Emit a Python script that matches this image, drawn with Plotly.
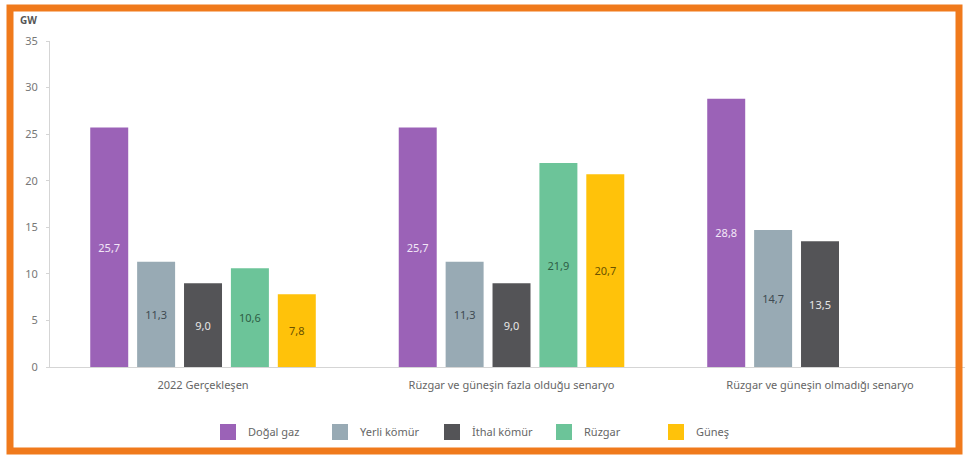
import plotly.graph_objects as go

# Installed capacity by source and scenario (GW)
categories = [
    "2022 Gerçekleşen",
    "Rüzgar ve güneşin fazla olduğu senaryo",
    "Rüzgar ve güneşin olmadığı senaryo",
]
series_names = ["Doğal gaz", "Yerli kömür", "İthal kömür", "Rüzgar", "Güneş"]
dogal_gaz = [25.7, 25.7, 28.8]
yerli_komur = [11.3, 11.3, 14.7]
ithal_komur = [9.0, 9.0, 13.5]
ruzgar = [10.6, 21.9, None]
gunes = [7.8, 20.7, None]
y_ticks = [0, 5, 10, 15, 20, 25, 30, 35]

series_values = [dogal_gaz, yerli_komur, ithal_komur, ruzgar, gunes]
colors = ["#9B62B7", "#98AAB4", "#545457", "#6CC499", "#FFC20A"]
text_colors = ["#F3E8F8", "#3F4A52", "#E6E6E6", "#2E5E45", "#6B5200"]

W, H = 965, 455
M_L, M_R, M_T, M_B = 50, 0, 41, 88
PW, PH = W - M_L - M_R, H - M_T - M_B

fig = go.Figure()
for name, vals, col, tcol in zip(series_names, series_values, colors, text_colors):
    fig.add_trace(go.Bar(
        name=name,
        x=categories,
        y=vals,
        marker=dict(color=col, line=dict(width=0)),
        texttemplate="%{y:.1f}",
        textposition="inside",
        insidetextanchor="middle",
        textangle=0,
        textfont=dict(color=tcol, size=11),
        cliponaxis=False,
        showlegend=False,
        legendgroup=name,
    ))

# Legend entries drawn as larger square swatches
for name, col in zip(series_names, colors):
    fig.add_trace(go.Scatter(
        name=name,
        x=[None], y=[None],
        mode="markers",
        marker=dict(symbol="square", size=16, color=col),
        legendgroup=name,
        showlegend=True,
    ))


def px_x(px):
    return (px - M_L) / PW


def px_y(py):
    return (H - M_B - py) / PH


# Orange frame around the whole figure
fig.add_shape(
    type="rect", xref="paper", yref="paper",
    x0=px_x(10), x1=px_x(959), y0=px_y(451), y1=px_y(8),
    line=dict(color="#F07A1C", width=7), fillcolor="rgba(0,0,0,0)",
    layer="above",
)

fig.add_annotation(
    text="<b>GW</b>", xref="paper", yref="paper",
    x=px_x(28), y=px_y(20), xanchor="center", yanchor="middle",
    showarrow=False, font=dict(size=10, color="#555555"),
)

fig.update_layout(
    width=W, height=H,
    margin=dict(l=M_L, r=M_R, t=M_T, b=M_B),
    paper_bgcolor="white", plot_bgcolor="white",
    separators=",.",
    font=dict(family="Noto Sans, Open Sans, sans-serif", size=11, color="#666666"),
    barmode="group",
    bargap=0.24,
    bargroupgap=0.19,
    showlegend=True,
    legend=dict(
        orientation="h", x=px_x(488), xanchor="center",
        y=px_y(432), yanchor="middle",
        font=dict(size=11, color="#666666"),
        entrywidth=67,
        itemsizing="trace",
    ),
    uniformtext=dict(minsize=10, mode="show"),
)

fig.update_xaxes(
    type="category",
    range=[-0.496, 2.47],
    showline=True, linecolor="#D5D5D5", linewidth=1,
    ticks="", showgrid=False,
    ticklabelstandoff=8,
    tickfont=dict(size=11, color="#666666"),
)
fig.update_yaxes(
    range=[0, 35], tickvals=y_ticks,
    showline=True, linecolor="#D5D5D5", linewidth=1,
    ticks="outside", ticklen=3, tickcolor="#D5D5D5",
    ticklabelstandoff=6,
    showgrid=False, zeroline=False,
    tickfont=dict(size=11, color="#777777"),
)

fig.write_html("out.html")
